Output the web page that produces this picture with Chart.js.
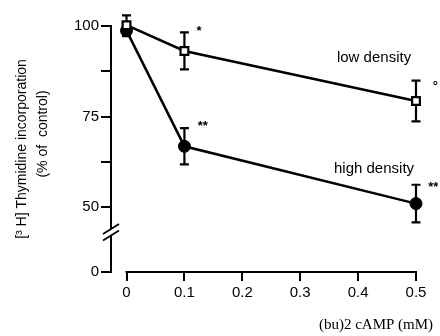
<!DOCTYPE html>
<html><head><meta charset="utf-8">
<script src="https://cdn.jsdelivr.net/npm/chart.js@4"></script>
<style>html,body{margin:0;padding:0;background:#fff}#wrap{width:440px;height:336px}</style>
</head><body><div id="wrap"><canvas id="c" width="440" height="336"></canvas></div>
<script>
// ---- data ----
const doses = [0, 0.1, 0.5];
const lowDensity = [100.2, 93.1, 79.3];
const lowDensityErr = [2.7, 5.1, 5.6];
const highDensity = [98.7, 66.8, 51.0];
const highDensityErr = [1.5, 5.0, 5.2];
const xTicks = [0, 0.1, 0.2, 0.3, 0.4, 0.5];
const yTicks = [50, 62.5, 75, 87.5, 100];
const yLabeled = [50, 75, 100];
const yZeroAt = 32.14;          // broken axis: bottom of axis stands for 0
const yBreak = [44.0, 42.2];    // gap in the y axis line
const seriesLabels = ['low density', 'high density'];
const labelPos = [[0.4275, 91.2], [0.4275, 60.6]];
const marks = [
  {text: '*',  x: 0.121, y: 98.6},
  {text: '°',  x: 0.529, y: 83.2},
  {text: '**', x: 0.123, y: 72.2},
  {text: '**', x: 0.521, y: 55.6}
];
const yTitle = ['[³ H] Thymidine incorporation', '(% of  control)'];
const xTitle = '(bu)2 cAMP (mM)';

const toXY = (ys) => doses.map((d, i) => ({x: d, y: ys[i]}));
const errs = [lowDensityErr, highDensityErr];
const SANS = '"Liberation Sans", Arial, sans-serif';

const custom = {
  id: 'custom',
  beforeDatasetsDraw(chart) {
    const {ctx, scales: {x, y}} = chart;
    ctx.save();
    ctx.strokeStyle = '#000';
    ctx.lineWidth = 2.2;
    chart.data.datasets.forEach((ds, di) => {
      ds.data.forEach((p, i) => {
        const e = errs[di][i];
        const px = x.getPixelForValue(p.x);
        const yt = y.getPixelForValue(p.y + e);
        const yb = y.getPixelForValue(p.y - e);
        ctx.beginPath();
        ctx.moveTo(px, yt); ctx.lineTo(px, yb);
        ctx.moveTo(px - 4.5, yt); ctx.lineTo(px + 4.5, yt);
        ctx.moveTo(px - 4.5, yb); ctx.lineTo(px + 4.5, yb);
        ctx.stroke();
      });
    });
    ctx.restore();
  },
  afterDraw(chart) {
    const {ctx, chartArea: ca, scales: {x, y}} = chart;
    ctx.save();
    ctx.strokeStyle = '#000';
    ctx.fillStyle = '#000';
    ctx.lineWidth = 2;
    // y axis with break
    const yTop = y.getPixelForValue(100);
    const b1 = y.getPixelForValue(yBreak[0]);
    const b2 = y.getPixelForValue(yBreak[1]);
    ctx.beginPath();
    ctx.moveTo(ca.left, yTop - 1); ctx.lineTo(ca.left, b1);
    ctx.moveTo(ca.left, b2); ctx.lineTo(ca.left, ca.bottom + 1);
    ctx.stroke();
    ctx.lineWidth = 1.8;
    ctx.beginPath();
    [b1, b2].forEach(by => {
      ctx.moveTo(ca.left - 8, by + 5); ctx.lineTo(ca.left + 8, by - 5);
    });
    ctx.stroke();
    // x axis line
    ctx.lineWidth = 2;
    ctx.beginPath();
    ctx.moveTo(x.getPixelForValue(0) - 1, ca.bottom);
    ctx.lineTo(x.getPixelForValue(0.5) + 1, ca.bottom);
    ctx.stroke();
    // series labels
    ctx.font = '15px ' + SANS;
    ctx.textAlign = 'center';
    ctx.textBaseline = 'middle';
    seriesLabels.forEach((t, i) => {
      ctx.fillText(t, x.getPixelForValue(labelPos[i][0]), y.getPixelForValue(labelPos[i][1]));
    });
    // significance marks
    ctx.font = 'bold 13px ' + SANS;
    ctx.textAlign = 'left';
    marks.forEach(m => ctx.fillText(m.text, x.getPixelForValue(m.x), y.getPixelForValue(m.y)));
    // y title (two lines, rotated)
    ctx.font = '14px ' + SANS;
    ctx.textAlign = 'center';
    ctx.save();
    ctx.translate(22, 149); ctx.rotate(-Math.PI / 2);
    ctx.fillText(yTitle[0], 0, 0);
    ctx.restore();
    ctx.save();
    ctx.translate(43, 134); ctx.rotate(-Math.PI / 2);
    ctx.fillText(yTitle[1], 0, 0);
    ctx.restore();
    // x title
    ctx.font = '15px "Liberation Serif", "Times New Roman", serif';
    ctx.textAlign = 'center';
    ctx.fillText(xTitle, 376, 325);
    ctx.restore();
  }
};

new Chart(document.getElementById('c'), {
  type: 'line',
  data: {
    datasets: [
      {
        label: seriesLabels[0], data: toXY(lowDensity),
        borderColor: '#000', borderWidth: 2.5,
        pointStyle: 'rect', pointRadius: 5.5, pointBorderWidth: 2.2,
        pointBackgroundColor: '#fff', pointBorderColor: '#000',
        clip: false, tension: 0
      },
      {
        label: seriesLabels[1], data: toXY(highDensity),
        borderColor: '#000', borderWidth: 2.5,
        pointStyle: 'circle', pointRadius: 6, pointBorderWidth: 1,
        pointBackgroundColor: '#000', pointBorderColor: '#000',
        clip: false, tension: 0
      }
    ]
  },
  options: {
    responsive: false, animation: false, devicePixelRatio: 1,
    layout: {padding: {left: 0, right: 24, top: 10, bottom: 0}},
    plugins: {legend: {display: false}, tooltip: {enabled: false}},
    scales: {
      x: {
        type: 'linear', min: -0.0268, max: 0.5,
        afterBuildTicks: s => { s.ticks = xTicks.map(v => ({value: v})); },
        afterFit: s => { s.height = 64; },
        grid: {display: true, drawOnChartArea: false, drawTicks: true, tickLength: 9, color: '#000', lineWidth: 2},
        border: {display: false},
        ticks: {
          color: '#000', font: {family: SANS, size: 15}, padding: 3, maxRotation: 0,
          callback: v => v === 0 ? '0' : v.toFixed(1)
        }
      },
      y: {
        type: 'linear', min: yZeroAt, max: 104.12,
        afterBuildTicks: s => { s.ticks = [yZeroAt, ...yTicks].map(v => ({value: v})); },
        afterFit: s => { s.width = 111; },
        grid: {display: true, drawOnChartArea: false, drawTicks: true, tickLength: 10, color: '#000', lineWidth: 2},
        border: {display: false},
        ticks: {
          color: '#000', font: {family: SANS, size: 15}, padding: 2,
          callback: v => v === yZeroAt ? '0' : (yLabeled.includes(v) ? String(v) : '')
        }
      }
    }
  },
  plugins: [custom]
});
</script>
</body></html>
